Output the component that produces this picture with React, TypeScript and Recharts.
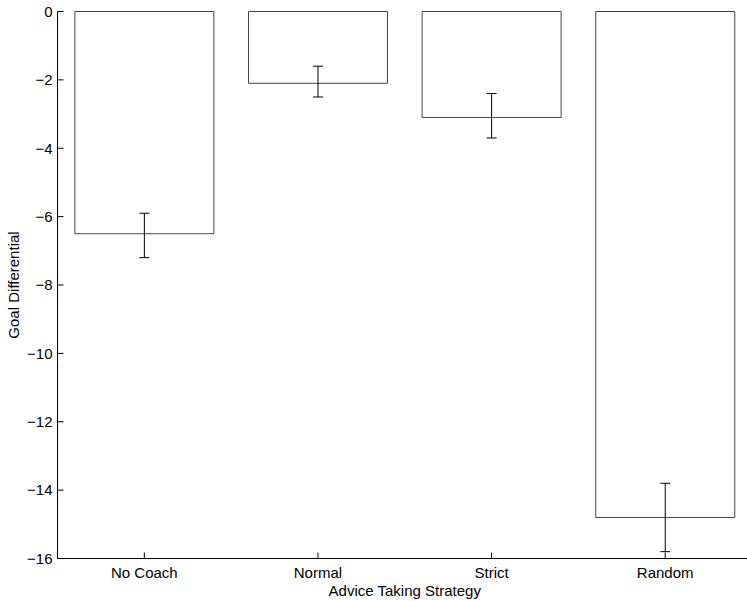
import React from 'react';
import { BarChart, Bar, XAxis, YAxis, ErrorBar } from 'recharts';

const categories = ['No Coach', 'Normal', 'Strict', 'Random'];
const values = [-6.5, -2.1, -3.1, -14.8];
const errLow = [0.7, 0.4, 0.6, 1.0];
const errHigh = [0.6, 0.5, 0.7, 1.0];
const yTicks = [-16, -14, -12, -10, -8, -6, -4, -2, 0];

const data = categories.map((name, i) => ({
  name,
  value: values[i],
  err: [errLow[i], errHigh[i]],
}));

const FONT = '"Liberation Sans", Arial, Helvetica, sans-serif';

const fmt = (v: number) => (v < 0 ? `\u2212${-v}` : `${v}`);

export default function App() {
  return (
    <div style={{ position: 'absolute', left: 0, top: 0, width: 747, height: 601, background: '#fff' }}>
      <BarChart
        width={747}
        height={601}
        data={data}
        margin={{ top: 11.5, right: -5, bottom: 0, left: 0 }}
        barCategoryGap="10%"
        style={{ fontFamily: FONT }}
      >
        <XAxis
          dataKey="name"
          height={42.5}
          tickSize={-6}
          tickMargin={15}
          axisLine={{ stroke: '#000' }}
          tickLine={{ stroke: '#000' }}
          tick={{ fill: '#000', fontSize: 15, fontFamily: FONT }}
          interval={0}
          label={{
            value: 'Advice Taking Strategy',
            position: 'insideBottom',
            offset: 5.5,
            style: { fill: '#000', fontSize: 15, fontFamily: FONT },
          }}
        />
        <YAxis
          type="number"
          domain={[-16, 0]}
          ticks={yTicks}
          width={57.5}
          tickSize={-6}
          tickMargin={11}
          tickFormatter={fmt}
          axisLine={{ stroke: '#000' }}
          tickLine={{ stroke: '#000' }}
          tick={{ fill: '#000', fontSize: 15, fontFamily: FONT }}
          label={{
            value: 'Goal Differential',
            angle: -90,
            position: 'insideLeft',
            offset: 14,
            style: { textAnchor: 'middle', fill: '#000', fontSize: 15, fontFamily: FONT },
          }}
        />
        <Bar dataKey="value" fill="#fff" stroke="#444" strokeWidth={1} isAnimationActive={false}>
          <ErrorBar dataKey="err" direction="y" width={5} stroke="#000" strokeWidth={1} isAnimationActive={false} />
        </Bar>
      </BarChart>
    </div>
  );
}
